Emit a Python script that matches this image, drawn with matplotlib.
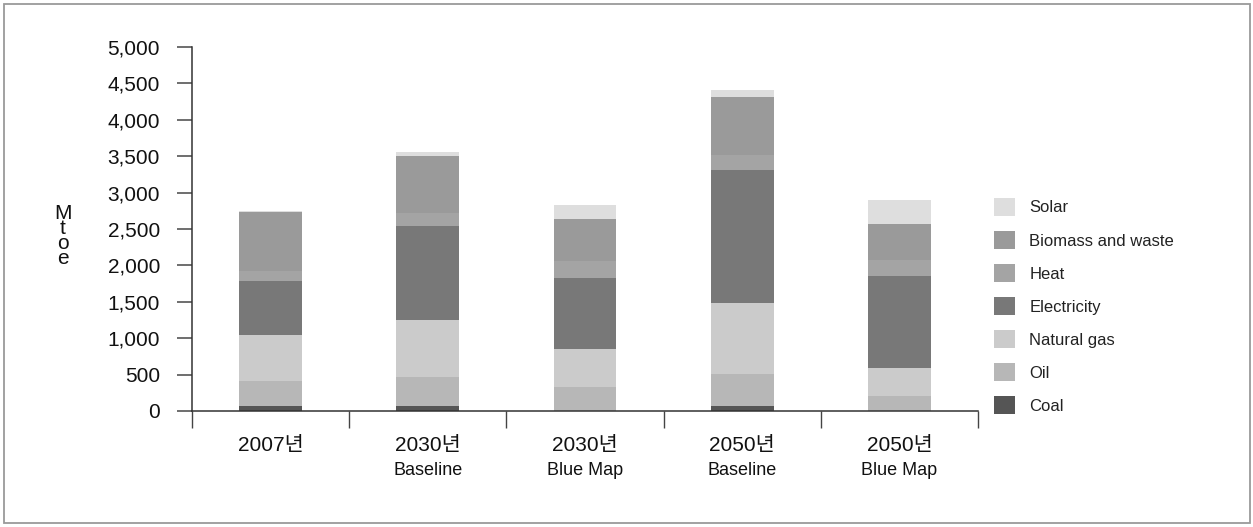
import matplotlib
matplotlib.use("Agg")
import matplotlib.pyplot as plt
import matplotlib.patches as mpatches
from matplotlib.transforms import blended_transform_factory
import numpy as np

plt.rcParams['font.family'] = ['Liberation Sans', 'Noto Sans CJK KR', 'DejaVu Sans']

# Scenario columns
years = ["2007년", "2030년", "2030년", "2050년", "2050년"]
scenarios = ["", "Baseline", "Blue Map", "Baseline", "Blue Map"]

# Final energy demand by source (Mtoe), bottom to top of each stack
coal        = [70, 70, 0, 70, 0]
oil         = [346, 401, 334, 438, 206]
natural_gas = [624, 779, 518, 971, 389]
electricity = [750, 1295, 979, 1831, 1264]
heat        = [133, 179, 229, 206, 215]
biomass     = [815, 783, 573, 793, 495]
solar       = [12, 51, 197, 100, 329]

series_names = ["Coal", "Oil", "Natural gas", "Electricity", "Heat",
                "Biomass and waste", "Solar"]
series_values = [coal, oil, natural_gas, electricity, heat, biomass, solar]
series_colors = ["#555555", "#b7b7b7", "#cbcbcb", "#787878", "#a4a4a4",
                 "#9a9a9a", "#dedede"]

y_ticks = [0, 500, 1000, 1500, 2000, 2500, 3000, 3500, 4000, 4500, 5000]

fig = plt.figure(figsize=(12.53, 5.27), dpi=100)
ax = fig.add_axes([192 / 1253, 1 - 411 / 527, (978 - 192) / 1253, (411 - 47) / 527])

x = np.arange(len(years))
bottom = np.zeros(len(years))
handles = []
for name, vals, col in zip(series_names, series_values, series_colors):
    vals = np.asarray(vals, dtype=float)
    bars = ax.bar(x, vals, width=0.4, bottom=bottom, color=col, linewidth=0,
                  label=name)
    bottom += vals
    handles.append(bars)

ax.set_xlim(-0.5, len(years) - 0.5)
ax.set_ylim(0, 5000)
ax.set_yticks(y_ticks)
ax.set_yticklabels([f"{v:,}" for v in y_ticks], fontsize=15, color="#111111")

# Category labels under each bar, boundary ticks between categories
ax.set_xticks(x)
ax.set_xticklabels(years, fontsize=15, color="#111111")
ax.set_xticks(np.arange(len(years) + 1) - 0.5, minor=True)
ax.tick_params(axis="x", which="major", length=0, pad=18)
ax.tick_params(axis="x", which="minor", length=12, width=1, color="#444444",
               direction="out")
ax.tick_params(axis="y", which="major", length=11, width=1.2, color="#555555",
               pad=12)

trans = blended_transform_factory(ax.transData, ax.transAxes)
for xi, sub in zip(x, scenarios):
    if sub:
        ax.text(xi, -0.163, sub, transform=trans, ha="center", va="center",
                fontsize=13, color="#111111")

for side in ("top", "right"):
    ax.spines[side].set_visible(False)
for side in ("left", "bottom"):
    ax.spines[side].set_color("#333333")
    ax.spines[side].set_linewidth(1.1)

fig.text(63 / 1253, 1 - 236 / 527, "M\nt\no\ne", ha="center", va="center",
         fontsize=15, linespacing=0.72, color="#111111")

leg = fig.legend(handles[::-1], series_names[::-1],
                 loc="upper left", bbox_to_anchor=(984 / 1253, 1 - 188 / 527),
                 frameon=False, fontsize=12, handlelength=1.26, handleheight=1.26,
                 labelspacing=0.92, handletextpad=0.85, borderpad=0.1)
for t in leg.get_texts():
    t.set_color("#222222")

# Outer frame
fig.patches.append(mpatches.Rectangle((4 / 1253, 4 / 527), 1246 / 1253, 519 / 527,
                                      transform=fig.transFigure, fill=False,
                                      edgecolor="#9a9a9a", linewidth=1.3))

fig.savefig("out.png", dpi=100)
